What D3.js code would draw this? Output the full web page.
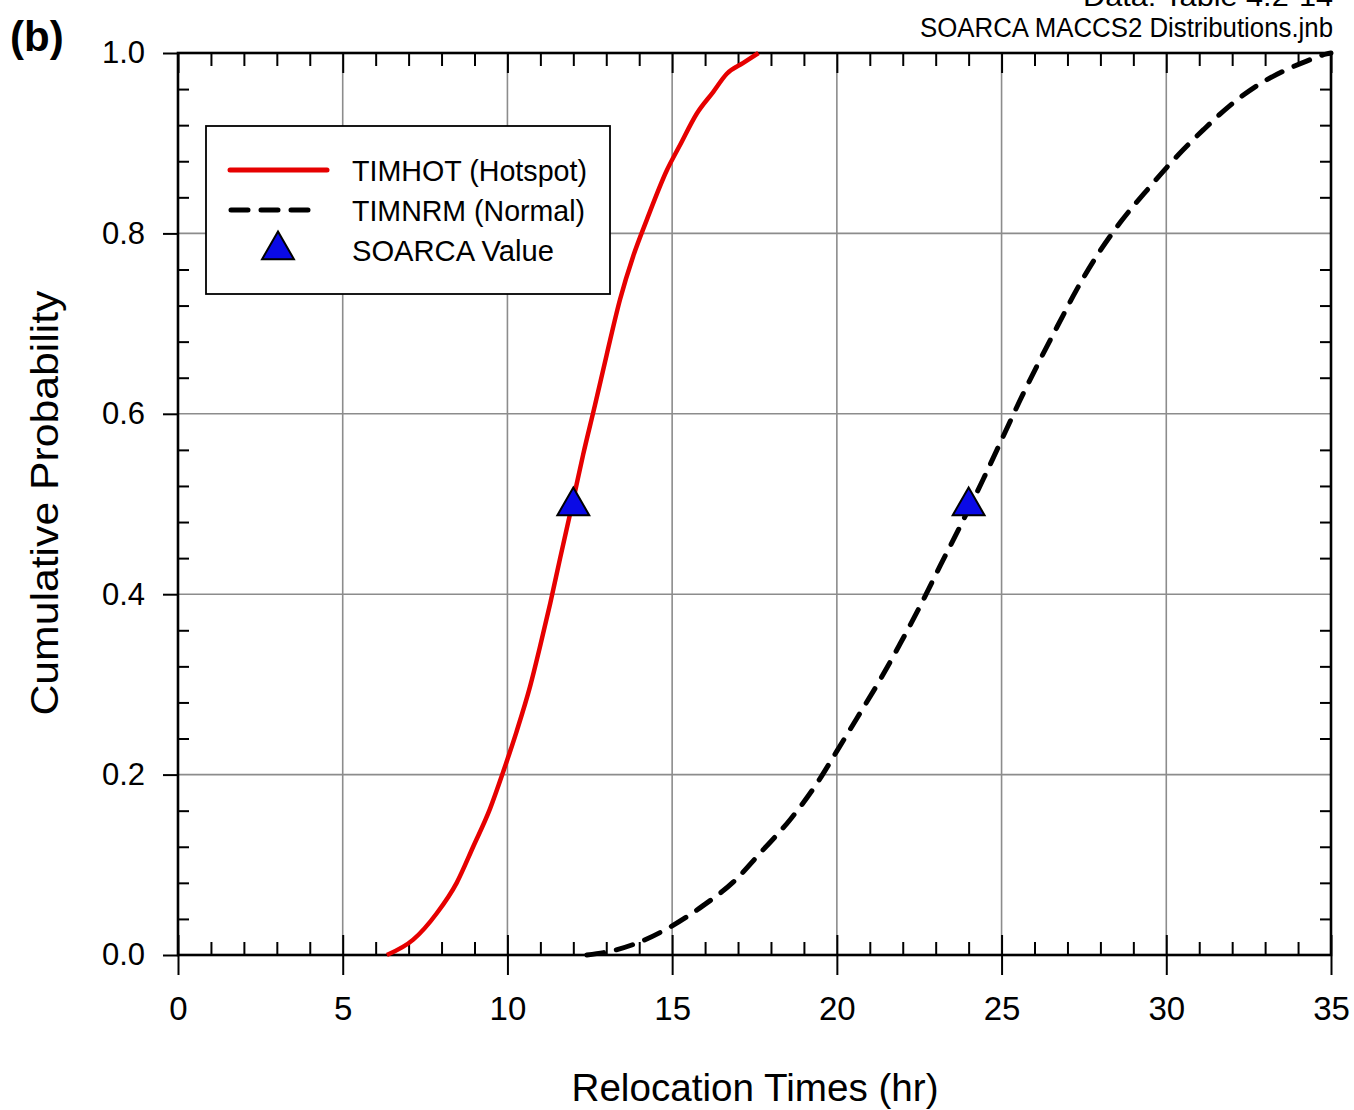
<!DOCTYPE html>
<html>
<head>
<meta charset="utf-8">
<script src="https://cdn.jsdelivr.net/npm/d3@7/dist/d3.min.js"></script>
<style>
  body { margin: 0; background: #fff; }
  svg { display: block; font-family: Arial, "Liberation Sans", sans-serif; }
</style>
</head>
<body>
<svg id="chart" width="1354" height="1110"></svg>
<script>
// data (hr, cumulative probability)
var hotX = [6.34, 7.14, 7.85, 8.46, 8.96, 9.47, 9.88, 10.28, 10.69, 10.99, 11.30, 11.60, 12.00, 12.30, 12.66, 13.01, 13.42, 13.82, 14.23, 14.84, 15.24, 15.75, 16.25, 16.66, 17.16, 17.62];
var hotP = [0.0, 0.017, 0.046, 0.080, 0.120, 0.162, 0.204, 0.248, 0.298, 0.342, 0.390, 0.440, 0.505, 0.555, 0.610, 0.665, 0.727, 0.775, 0.815, 0.870, 0.898, 0.933, 0.957, 0.977, 0.989, 1.0];

var nrmX = [12.41, 13.11, 13.92, 14.94, 15.95, 16.86, 17.67, 18.58, 19.39, 20.0, 20.60, 21.31, 21.92, 22.53, 23.13, 23.74, 24.45, 25.05, 25.56, 26.17, 26.88, 27.18, 27.89, 28.60, 29.51, 30.01, 30.52, 31.13, 31.94, 32.85, 33.56, 34.26, 34.87, 35.0];
var nrmP = [0.0, 0.004, 0.013, 0.031, 0.055, 0.081, 0.113, 0.150, 0.190, 0.226, 0.262, 0.305, 0.345, 0.387, 0.431, 0.475, 0.528, 0.575, 0.615, 0.660, 0.710, 0.731, 0.775, 0.812, 0.852, 0.873, 0.893, 0.915, 0.942, 0.966, 0.980, 0.991, 0.999, 1.0];

var soarcaX = [12, 24];
var soarcaP = [0.5, 0.5];

var xMajor = [0, 5, 10, 15, 20, 25, 30, 35];
var yMajor = [0, 0.2, 0.4, 0.6, 0.8, 1.0];
var legendLabels = ["TIMHOT (Hotspot)", "TIMNRM (Normal)", "SOARCA Value"];

var svg = d3.select("#chart");
var x = d3.scaleLinear().domain([0, 35]).range([178, 1331]);
var y = d3.scaleLinear().domain([0, 1]).range([955, 53]);

var xMinor = d3.range(0, 36, 1).filter(function(d) { return d % 5 !== 0; });
var yMinor = d3.range(0, 26).map(function(i) { return i * 0.04; }).filter(function(d, i) { return i % 5 !== 0; });

// grid
svg.append("g").selectAll("line")
  .data(xMajor.slice(1, -1)).enter().append("line")
  .attr("x1", function(d) { return x(d); }).attr("x2", function(d) { return x(d); })
  .attr("y1", y(0)).attr("y2", y(1))
  .attr("stroke", "#8c8c8c").attr("stroke-width", 1.6);
svg.append("g").selectAll("line")
  .data(yMajor.slice(1, -1)).enter().append("line")
  .attr("y1", function(d) { return y(d); }).attr("y2", function(d) { return y(d); })
  .attr("x1", x(0)).attr("x2", x(35))
  .attr("stroke", "#8c8c8c").attr("stroke-width", 1.6);

function styleAxis(g) {
  g.select(".domain").remove();
  g.selectAll(".tick line").attr("stroke", "#000").attr("stroke-width", 2);
}

// bottom axis: labels + outward major, inward major, inward minor
svg.append("g").attr("transform", "translate(0," + y(0) + ")")
  .call(d3.axisBottom(x).tickValues(xMajor).tickSize(20).tickPadding(22).tickFormat(d3.format("d")))
  .call(styleAxis)
  .selectAll("text").attr("font-size", 33).attr("fill", "#000").attr("font-family", "Arial, 'Liberation Sans', sans-serif");
svg.append("g").attr("transform", "translate(0," + y(0) + ")")
  .call(d3.axisBottom(x).tickValues(xMajor).tickSize(-20).tickFormat(""))
  .call(styleAxis);
svg.append("g").attr("transform", "translate(0," + y(0) + ")")
  .call(d3.axisBottom(x).tickValues(xMinor).tickSize(-13).tickFormat(""))
  .call(styleAxis);

// top axis: inward ticks
svg.append("g").attr("transform", "translate(0," + y(1) + ")")
  .call(d3.axisTop(x).tickValues(xMinor).tickSize(-13).tickFormat(""))
  .call(styleAxis);
svg.append("g").attr("transform", "translate(0," + y(1) + ")")
  .call(d3.axisTop(x).tickValues(xMajor).tickSize(-20).tickFormat(""))
  .call(styleAxis);

// left axis
svg.append("g").attr("transform", "translate(" + x(0) + ",0)")
  .call(d3.axisLeft(y).tickValues(yMajor).tickSize(15).tickPadding(18).tickFormat(d3.format(".1f")))
  .call(styleAxis)
  .selectAll("text").attr("font-size", 31).attr("fill", "#000").attr("font-family", "Arial, 'Liberation Sans', sans-serif");
svg.append("g").attr("transform", "translate(" + x(0) + ",0)")
  .call(d3.axisLeft(y).tickValues(yMinor).tickSize(-11).tickFormat(""))
  .call(styleAxis);

// right axis
svg.append("g").attr("transform", "translate(" + x(35) + ",0)")
  .call(d3.axisRight(y).tickValues(yMinor).tickSize(-11).tickFormat(""))
  .call(styleAxis);

// frame
svg.append("rect")
  .attr("x", x(0)).attr("y", y(1))
  .attr("width", x(35) - x(0)).attr("height", y(0) - y(1))
  .attr("fill", "none").attr("stroke", "#000").attr("stroke-width", 2.6);

// curves
var line = d3.line()
  .x(function(d) { return x(d[0]); })
  .y(function(d) { return y(d[1]); })
  .curve(d3.curveMonotoneX);

svg.append("path")
  .datum(d3.zip(nrmX, nrmP))
  .attr("d", line)
  .attr("fill", "none").attr("stroke", "#000").attr("stroke-width", 5)
  .attr("stroke-dasharray", "17,13").attr("stroke-linecap", "round");

svg.append("path")
  .datum(d3.zip(hotX, hotP))
  .attr("d", line)
  .attr("fill", "none").attr("stroke", "#e60000").attr("stroke-width", 4.5)
  .attr("stroke-linejoin", "round");

var tri = d3.symbol().type(d3.symbolTriangle).size(440);
svg.append("g").selectAll("path")
  .data(d3.zip(soarcaX, soarcaP)).enter().append("path")
  .attr("d", tri)
  .attr("transform", function(d) { return "translate(" + x(d[0]) + "," + (y(d[1]) + 2) + ")"; })
  .attr("fill", "#0a0ae6").attr("stroke", "#000").attr("stroke-width", 2);

// legend
var lg = svg.append("g");
lg.append("rect").attr("x", 206).attr("y", 126).attr("width", 404).attr("height", 168)
  .attr("fill", "#fff").attr("stroke", "#000").attr("stroke-width", 1.8);
lg.append("line").attr("x1", 230).attr("x2", 327).attr("y1", 170).attr("y2", 170)
  .attr("stroke", "#e60000").attr("stroke-width", 5).attr("stroke-linecap", "round");
lg.append("line").attr("x1", 231).attr("x2", 316).attr("y1", 210).attr("y2", 210)
  .attr("stroke", "#000").attr("stroke-width", 5).attr("stroke-dasharray", "17,13").attr("stroke-linecap", "round");
lg.append("path").attr("d", tri).attr("transform", "translate(278,250)")
  .attr("fill", "#0a0ae6").attr("stroke", "#000").attr("stroke-width", 2);
var legendW = [235, 233, 202];
lg.selectAll("text.lbl").data(legendLabels).enter().append("text")
  .attr("class", "lbl")
  .attr("x", 352).attr("y", function(d, i) { return 181 + i * 40; })
  .attr("font-size", 30)
  .attr("textLength", function(d, i) { return legendW[i]; })
  .attr("lengthAdjust", "spacingAndGlyphs")
  .text(function(d) { return d; });

// axis titles
svg.append("text").attr("x", 755).attr("y", 1101).attr("text-anchor", "middle")
  .attr("font-size", 38).attr("textLength", 367).attr("lengthAdjust", "spacingAndGlyphs")
  .text("Relocation Times (hr)");
svg.append("text").attr("transform", "translate(58,503) rotate(-90)").attr("text-anchor", "middle")
  .attr("font-size", 39).attr("textLength", 425).attr("lengthAdjust", "spacingAndGlyphs")
  .text("Cumulative Probability");

// header texts
svg.append("text").attr("x", 10).attr("y", 51).attr("font-size", 42).attr("font-weight", "bold")
  .text("(b)");
svg.append("text").attr("x", 1333).attr("y", 37).attr("text-anchor", "end")
  .attr("font-size", 27).attr("textLength", 413).attr("lengthAdjust", "spacingAndGlyphs")
  .text("SOARCA MACCS2 Distributions.jnb");
// only the lower part of this line is visible in the source figure
svg.append("text").attr("x", 1333).attr("y", 6).attr("text-anchor", "end")
  .attr("font-size", 27).attr("textLength", 250).attr("lengthAdjust", "spacingAndGlyphs")
  .text("Data: Table 4.2-14");
</script>
</body>
</html>
